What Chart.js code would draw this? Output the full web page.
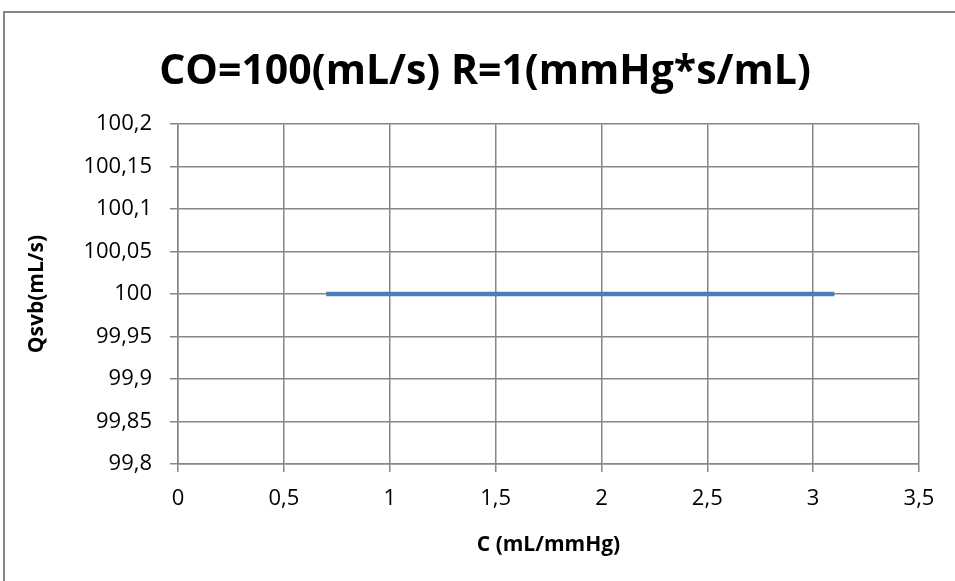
<!DOCTYPE html>
<html>
<head>
<meta charset="utf-8">
<script src="https://cdn.jsdelivr.net/npm/chart.js@4"></script>
<style>
  html, body { margin: 0; padding: 0; background: #fff; }
  canvas { display: block; }
</style>
</head>
<body>
<canvas id="myChart" width="955" height="581"></canvas>
<script>
// data
var cValues = [0.7, 0.8, 0.9, 1, 1.1, 1.2, 1.3, 1.4, 1.5, 1.6, 1.7, 1.8, 1.9, 2, 2.1, 2.2, 2.3, 2.4, 2.5, 2.6, 2.7, 2.8, 2.9, 3, 3.1];
var qsvbValues = [100, 100, 100, 100, 100, 100, 100, 100, 100, 100, 100, 100, 100, 100, 100, 100, 100, 100, 100, 100, 100, 100, 100, 100, 100];
var xTicks = [0, 0.5, 1, 1.5, 2, 2.5, 3, 3.5];
var yTicks = [99.8, 99.85, 99.9, 99.95, 100, 100.05, 100.1, 100.15, 100.2];
var chartTitle = 'CO=100(mL/s) R=1(mmHg*s/mL)';
var xTitle = 'C (mL/mmHg)';
var yTitle = 'Qsvb(mL/s)';

var GRID = '#868686';

function commaNum(v){
  return (Math.round(v*100)/100).toString().replace('.', ',');
}

// grey frame round the chart (Excel chart area border)
const frame = {
  id: 'frame',
  beforeDraw(chart){
    const c = chart.ctx;
    c.save();
    c.fillStyle = '#fff';
    c.fillRect(0, 0, chart.width, chart.height);
    c.strokeStyle = GRID;
    c.lineWidth = 2;
    c.strokeRect(4, 12, chart.width + 20, chart.height + 20);
    c.restore();
  }
};

var ctx = document.getElementById("myChart");
const config = {
  type: 'line',
  data: {
    datasets: [{
      label: 'Qsvb',
      data: cValues.map((c, i) => ({x: c, y: qsvbValues[i]})),
      borderColor: '#4a7ebb',
      borderWidth: 4.5,
      borderCapStyle: 'butt',
      pointRadius: 0,
      fill: false,
      tension: 0
    }]
  },
  options: {
    responsive: false,
    animation: false,
    layout: { padding: { top: 1, right: 0, bottom: 0, left: 15 } },
    plugins: {
      legend: { display: false },
      tooltip: { enabled: false },
      title: {
        display: true,
        text: chartTitle,
        color: '#000',
        font: { family: '"Open Sans"', size: 41, weight: 'bold', lineHeight: 1.2 },
        padding: { top: 47, bottom: 27 }
      }
    },
    scales: {
      x: {
        type: 'linear',
        min: 0,
        max: 3.5,
        afterBuildTicks(scale){ scale.ticks = xTicks.map(v => ({value: v})); },
        afterFit(scale){ scale.height = 117; },
        grid: { color: GRID, lineWidth: 1.5, tickLength: 8, drawTicks: true },
        border: { color: GRID, width: 1.5 },
        ticks: {
          color: '#000',
          padding: 14,
          maxRotation: 0,
          font: { family: '"Open Sans"', size: 22 },
          callback: v => commaNum(v)
        },
        title: {
          display: true,
          text: xTitle,
          color: '#000',
          font: { family: '"Open Sans"', size: 21, weight: 'bold', lineHeight: 1.2 },
          padding: { top: 0, bottom: 23 }
        }
      },
      y: {
        type: 'linear',
        min: 99.8,
        max: 100.2,
        afterBuildTicks(scale){ scale.ticks = yTicks.map(v => ({value: v})); },
        afterFit(scale){ scale.width = 163; },
        grid: { color: GRID, lineWidth: 1.5, tickLength: 8, drawTicks: true },
        border: { color: GRID, width: 1.5 },
        ticks: {
          color: '#000',
          padding: 18,
          font: { family: '"Open Sans"', size: 22 },
          callback: v => commaNum(v)
        },
        title: {
          display: true,
          text: yTitle,
          color: '#000',
          font: { family: '"Open Sans"', size: 21, weight: 'bold', lineHeight: 1.2 },
          padding: { top: 9, bottom: 0 }
        }
      },
      // empty right-hand space, keeps the plot right edge where the reference has it
      yRight: {
        type: 'linear',
        position: 'right',
        display: true,
        afterFit(scale){ scale.width = 36; },
        grid: { display: false, drawTicks: false },
        border: { display: false },
        ticks: { display: false }
      }
    }
  },
  plugins: [frame]
};

var chart = new Chart(ctx, config);
</script>
</body>
</html>
